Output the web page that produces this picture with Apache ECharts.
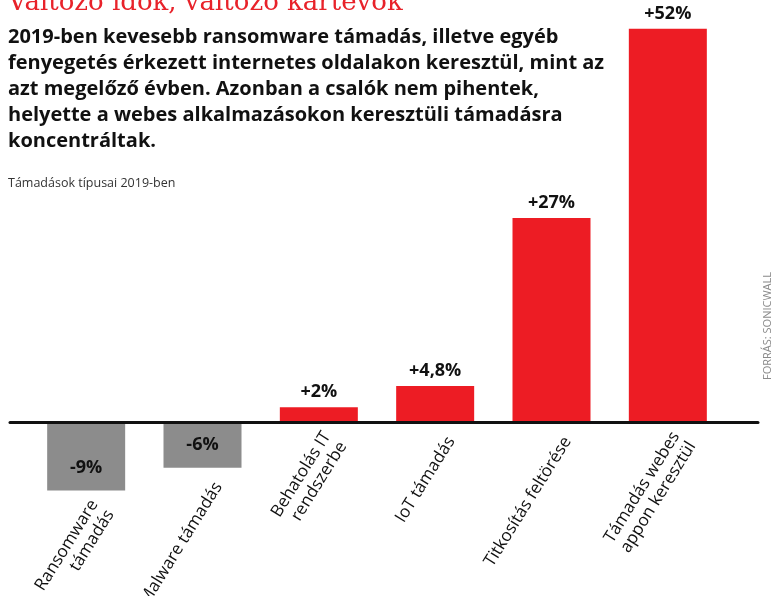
<!DOCTYPE html>
<html>
<head>
<meta charset="utf-8">
<script src="https://cdn.jsdelivr.net/npm/echarts@6/dist/echarts.min.js"></script>
<style>
  html, body { margin: 0; padding: 0; background: #fff; }
  #chart { width: 778px; height: 596px; }
</style>
</head>
<body>
<div id="chart"></div>
<script>
// Attack types and their change in 2019 (percent)
const categories = [
  'Ransomware\ntámadás',
  'Malware támadás',
  'Behatolás IT\nrendszerbe',
  'IoT támadás',
  'Titkosítás feltörése',
  'Támadás webes\nappon keresztül'
];
const changes = [-9, -6, 2, 4.8, 27, 52];

const headline = 'Változó idők, változó kártevők';
const ledeLines = [
  '2019-ben kevesebb ransomware támadás, illetve egyéb',
  'fenyegetés érkezett internetes oldalakon keresztül, mint az',
  'azt megelőző évben. Azonban a csalók nem pihentek,',
  'helyette a webes alkalmazásokon keresztüli támadásra',
  'koncentráltak.'
];
const axisNote = 'Támadások típusai 2019-ben';
const sourceNote = 'FORRÁS: SONICWALL';

const RED = '#ED1C24';
const GREY = '#8C8C8C';
const FONT = '"Open Sans", "Noto Sans", sans-serif';

// Category names hang below each bar's lower edge, rotated.
const nameAngle = 58;
const nameShift = [16, 16]; // screen-space shift of the name anchor
const rad = nameAngle * Math.PI / 180;
const nameOffset = [
  nameShift[0] * Math.cos(rad) - nameShift[1] * Math.sin(rad),
  nameShift[0] * Math.sin(rad) + nameShift[1] * Math.cos(rad)
];

const fmtChange = v => (v > 0 ? '+' : '') + String(v).replace('.', ',') + '%';

const chart = echarts.init(document.getElementById('chart'));

chart.setOption({
  animation: false,
  title: [
    {
      text: headline,
      left: 8, top: -10, padding: 0,
      textStyle: { fontFamily: '"DejaVu Serif", serif', fontWeight: 'normal', fontSize: 26, color: '#E8222A' }
    },
    {
      text: ledeLines.join('\n'),
      left: 8, top: 24, padding: 0,
      textStyle: { fontFamily: FONT, fontWeight: 'bold', fontSize: 20, lineHeight: 26, color: '#111' }
    },
    {
      text: axisNote,
      left: 8, top: 177, padding: 0,
      textStyle: { fontFamily: FONT, fontWeight: 'normal', fontSize: 12.5, color: '#333' }
    }
  ],
  grid: [
    { left: 28, right: 52, top: 6, bottom: 98 },
    { left: 10, right: 20, top: 6, bottom: 98 }
  ],
  xAxis: [
    {
      type: 'category', gridIndex: 0, data: categories,
      axisLine: { show: false }, axisTick: { show: false }, axisLabel: { show: false }
    },
    {
      type: 'category', gridIndex: 1, data: [''], z: 5,
      axisLine: { show: true, onZero: true, lineStyle: { color: '#111', width: 3 } },
      axisTick: { show: false }, axisLabel: { show: false }
    }
  ],
  yAxis: [
    { type: 'value', gridIndex: 0, min: -10, max: 55, show: false },
    { type: 'value', gridIndex: 1, min: -10, max: 55, show: false }
  ],
  series: [
    {
      type: 'bar',
      barWidth: 78,
      data: changes.map(v => ({
        value: v,
        itemStyle: { color: v < 0 ? GREY : RED },
        label: { position: v < 0 ? 'insideBottom' : 'top', distance: v < 0 ? 14 : 6 }
      })),
      label: {
        show: true,
        formatter: p => fmtChange(p.value),
        fontFamily: FONT, fontWeight: 'bold', fontSize: 18, color: '#111'
      }
    },
    {
      type: 'bar',
      barWidth: 78,
      barGap: '-100%',
      silent: true,
      data: changes,
      itemStyle: { color: 'rgba(0,0,0,0)' },
      label: {
        show: true,
        formatter: p => categories[p.dataIndex],
        position: ['50%', '100%'],
        rotate: nameAngle,
        align: 'right',
        verticalAlign: 'middle',
        offset: nameOffset,
        fontFamily: FONT, fontSize: 17, lineHeight: 19, color: '#111'
      }
    }
  ],
  graphic: [
    {
      type: 'text',
      x: 768, y: 326,
      rotation: Math.PI / 2,
      style: {
        text: sourceNote,
        fill: '#8A8A8A',
        font: '11px "Open Sans", sans-serif',
        textAlign: 'center',
        textVerticalAlign: 'middle'
      }
    }
  ]
});
</script>
</body>
</html>
